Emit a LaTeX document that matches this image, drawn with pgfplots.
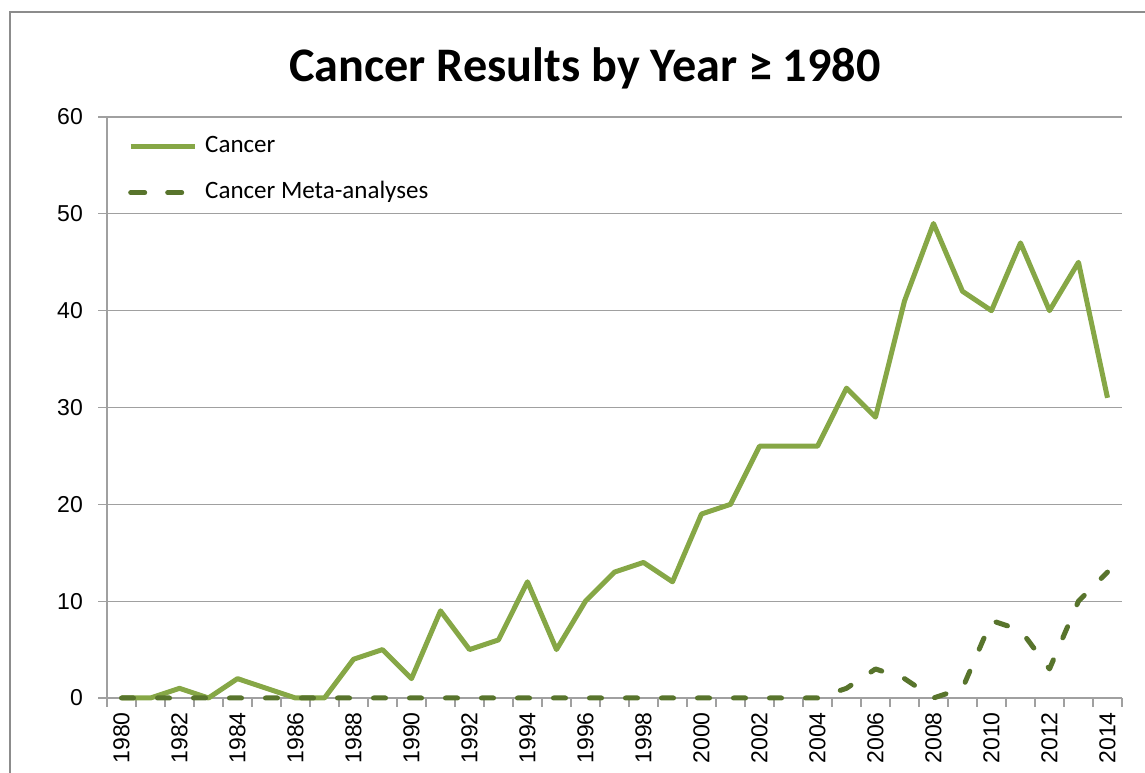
\documentclass[border=0pt]{standalone}
\usepackage{pgfplots}
\usepackage{pgfplotstable}
\pgfplotsset{compat=1.18}
\usepackage{fontspec}
\setmainfont{Carlito}
\newfontfamily\tickfont{Liberation Sans}
\definecolor{cgreen}{RGB}{134,167,70}
\definecolor{cdark}{RGB}{88,116,44}
\definecolor{gridgray}{RGB}{160,160,160}
\definecolor{framegray}{RGB}{140,140,140}

\pgfplotsset{
  solidleg/.style={legend image code/.code={\draw[##1] (0pt,0pt) -- (64pt,0pt);}},
  dashleg/.style={legend image code/.code={\draw[##1,solid] (0pt,0pt) -- (14pt,0pt); \draw[##1,solid] (37pt,0pt) -- (51pt,0pt);}},
}

\pgfplotstableread{
x c m
0 0 0
1 0 0
2 1 0
3 0 0
4 2 0
5 1 0
6 0 0
7 0 0
8 4 0
9 5 0
10 2 0
11 9 0
12 5 0
13 6 0
14 12 0
15 5 0
16 10 0
17 13 0
18 14 0
19 12 0
20 19 0
21 20 0
22 26 0
23 26 0
24 26 0
25 32 1
26 29 3
27 41 2
28 49 0
29 42 1
30 40 8
31 47 7
32 40 3
33 45 10
34 31 13
}\datatable

\begin{document}
\begin{tikzpicture}[x=1pt,y=1pt]
\path[use as bounding box] (0,0) rectangle (1145,773);
\draw[framegray, line width=2pt] (10,-10) -- (10,761) -- (1160,761);
\node[font=\fontsize{48.2}{56}\selectfont\bfseries, anchor=base, inner sep=0pt] at (585,691) {Cancer Results by Year ≥ 1980};
\begin{axis}[
  at={(107pt,75pt)}, anchor=south west,
  scale only axis, width=1015pt, height=581pt,
  xmin=-0.5, xmax=34.5, ymin=0, ymax=60,
  axis x line*=bottom, axis y line*=left,
  axis line style={gridgray, line width=1.5pt, -},
  ytick={0,10,...,60},
  ymajorgrids, major grid style={gridgray, line width=1.3pt},
  xtick={0,2,...,34},
  xticklabel={\pgfmathtruncatemacro\yr{1980+\tick}\tickfont\fontsize{23}{26}\selectfont\yr},
  yticklabel={\tickfont\fontsize{23}{26}\selectfont\pgfmathprintnumber[assume math mode=true]{\tick}},
  minor xtick={-0.5,0.5,...,34.5},
  tick align=outside, major tick length=9pt, minor tick length=9pt,
  tick style={gridgray, line width=1.3pt},
  major x tick style={draw=none},
  xticklabel style={yshift=-5pt, rotate=90, anchor=east, inner sep=0pt},
  yticklabel style={xshift=-15pt, anchor=east, inner sep=0pt},
  legend style={at={(rel axis cs:0,1)}, anchor=north west, draw=none, fill=none,
    font=\fontsize{25}{30}\selectfont, legend cell align=left,
    inner xsep=0pt, inner ysep=0pt, column sep=8pt, row sep=23pt,
    nodes={inner sep=0pt, text height=17pt, text depth=6pt},
    xshift=21pt, yshift=-18pt},
  clip=false,
]
\addplot[cgreen, line width=5pt, line join=round, solidleg]
  table[x=x, y=c] {\datatable};
\addlegendentry{Cancer}
\addplot[cdark, line width=5pt, line join=round, line cap=round, dash pattern=on 12pt off 24pt, dashleg]
  table[x=x, y=m] {\datatable};
\addlegendentry{Cancer Meta-analyses}
\end{axis}
\end{tikzpicture}
\end{document}
